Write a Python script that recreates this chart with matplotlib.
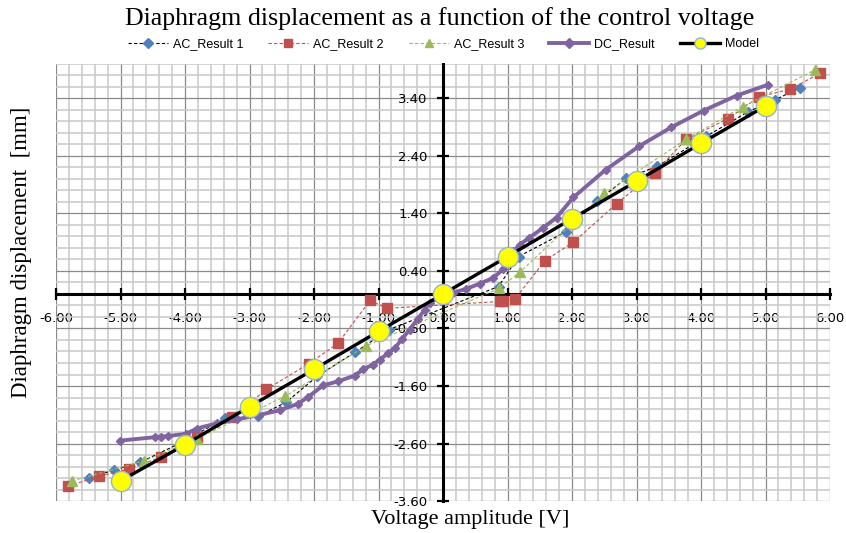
import numpy as np
import matplotlib.pyplot as plt
from matplotlib.ticker import MultipleLocator, FixedLocator

# AC_Result 1 (blue diamonds, black dashed line)
ac1_x = [-5.49, -5.10, -4.70, -4.05, -3.38, -2.87, -2.43, -1.95, -1.36, -0.84,
         0.86, 1.17, 1.90, 2.38, 2.84, 3.32, 4.08, 4.73, 5.14, 5.53]
ac1_y = [-3.20, -3.06, -2.93, -2.58, -2.16, -2.13, -1.88, -1.43, -1.01, -0.62,
         0.13, 0.65, 1.08, 1.61, 2.01, 2.22, 2.74, 3.17, 3.37, 3.59]

# AC_Result 2 (red squares)
ac2_x = [-5.81, -5.33, -4.87, -4.38, -3.82, -3.27, -2.74, -2.08, -1.63, -1.13, -0.87,
         0.88, 0.93, 1.12, 1.58, 2.02, 2.69, 3.28, 3.77, 4.42, 4.90, 5.38, 5.85]
ac2_y = [-3.34, -3.17, -3.04, -2.84, -2.49, -2.14, -1.66, -1.21, -0.86, -0.11, -0.25,
         -0.13, -0.12, -0.08, 0.58, 0.90, 1.57, 2.11, 2.69, 3.05, 3.43, 3.56, 3.84]

# AC_Result 3 (green triangles)
ac3_x = [-5.75, -4.63, -3.82, -2.45, -1.19, 0.87, 1.19, 2.50, 3.77, 4.65, 5.77]
ac3_y = [-3.25, -2.90, -2.52, -1.78, -0.90, 0.10, 0.38, 1.75, 2.69, 3.26, 3.90]

# DC_Result (purple)
dc_x = [-5.01, -4.47, -4.37, -4.26, -3.98, -3.82, -3.51, -3.20, -2.87, -2.53, -2.25,
        -2.09, -1.86, -1.63, -1.37, -1.24, -1.09, -0.98, -0.85, -0.75, -0.64, -0.52,
        -0.39, -0.28, -0.21, -0.05, 0.15, 0.36, 0.57, 0.78, 0.93, 1.09, 1.19, 1.34,
        1.55, 1.76, 2.02, 2.52, 3.04, 3.54, 4.04, 4.55, 5.04]
dc_y = [-2.55, -2.49, -2.48, -2.47, -2.43, -2.34, -2.25, -2.18, -2.11, -2.02, -1.91,
        -1.79, -1.59, -1.52, -1.42, -1.31, -1.23, -1.14, -1.03, -0.94, -0.79, -0.62,
        -0.43, -0.27, -0.15, -0.06, 0.02, 0.09, 0.18, 0.28, 0.43, 0.74, 0.86, 0.98,
        1.15, 1.33, 1.68, 2.16, 2.57, 2.90, 3.19, 3.45, 3.64]

# Model (yellow circles)
model_x = [-5, -4, -3, -2, -1, 0, 1, 2, 3, 4, 5]
model_y = [-3.25, -2.62, -1.96, -1.31, -0.65, 0.0, 0.65, 1.31, 1.96, 2.62, 3.27]

x_ticks = np.arange(-6, 6.01, 1.0)
y_ticks = np.arange(-3.6, 3.41, 1.0)

fig = plt.figure(figsize=(8.46, 5.33), dpi=100)
ax = fig.add_axes([0.0662, 0.06, 0.915, 0.82])

ax.plot(ac1_x, ac1_y, color='black', ls=(0, (3, 2)), lw=0.8, marker='D', ms=5,
        mfc='#4F81BD', mec='#4F81BD', label='AC_Result 1', zorder=3)
ax.plot(ac2_x, ac2_y, color='#C0504D', ls=(0, (3, 2)), lw=0.8, marker='s', ms=6.5,
        mfc='#C0504D', mec='#C0504D', label='AC_Result 2', zorder=3)
ax.plot(ac3_x, ac3_y, color='#9BBB59', ls=(0, (3, 2)), lw=0.8, marker='^', ms=7,
        mfc='#9BBB59', mec='#9BBB59', label='AC_Result 3', zorder=3)
ax.plot(dc_x, dc_y, color='#8064A2', lw=2.8, marker='D', ms=4.5,
        mfc='#8064A2', mec='#8064A2', label='DC_Result', zorder=4)
ax.plot(model_x, model_y, color='black', lw=2.4, marker='o', ms=14.5,
        mfc='#FFFF00', mec='#95B3D7', mew=1.0, label='Model', zorder=5)

ax.set_xlim(-6, 6)
ax.set_ylim(-3.6, 4.0)

ax.xaxis.set_major_locator(FixedLocator(x_ticks))
ax.yaxis.set_major_locator(FixedLocator(y_ticks))
ax.xaxis.set_minor_locator(MultipleLocator(0.2))
ax.yaxis.set_minor_locator(FixedLocator(np.arange(-3.6, 4.01, 0.2)))
ax.set_xticklabels([f'{v:.2f}' for v in x_ticks])
ax.set_yticklabels([f'{v:.2f}' for v in y_ticks])

ax.grid(which='minor', color='#c8c8c8', lw=1.1, zorder=0)
ax.grid(which='major', color='#8a8a8a', lw=0.9, zorder=0)
ax.set_axisbelow(True)

ax.spines['left'].set_position('zero')
ax.spines['bottom'].set_position('zero')
ax.spines['left'].set_linewidth(2.2)
ax.spines['bottom'].set_linewidth(2.2)
ax.spines['top'].set_visible(False)
ax.spines['right'].set_visible(False)
ax.tick_params(which='major', direction='inout', length=8, width=1.6,
               labelsize=9.5)
ax.tick_params(axis='x', which='major', pad=9)
ax.tick_params(axis='y', which='major', pad=7)
ax.tick_params(which='minor', length=0)

ax.set_xlabel('Voltage amplitude [V]', family='Liberation Serif', fontsize=16)
ax.xaxis.set_label_coords(0.535, -0.02)
ax.set_ylabel('Diaphragm displacement  [mm]', family='Liberation Serif', fontsize=16.5)
ax.yaxis.set_label_coords(-0.031, 0.57)

fig.text(0.52, 0.966, 'Diaphragm displacement as a function of the control voltage',
         family='Liberation Serif', fontsize=18.7, ha='center', va='center')

leg = fig.legend(loc='center', bbox_to_anchor=(0.524, 1 - 44 / 533), ncol=5,
                 frameon=False, prop={'family': 'Liberation Sans', 'size': 9},
                 handlelength=3.2, columnspacing=2.0, handletextpad=0.4)
for h, ms in zip(leg.legend_handles, [5, 6, 6, 5, 8]):
    h.set_markersize(ms)

fig.savefig('out.png', dpi=100)
